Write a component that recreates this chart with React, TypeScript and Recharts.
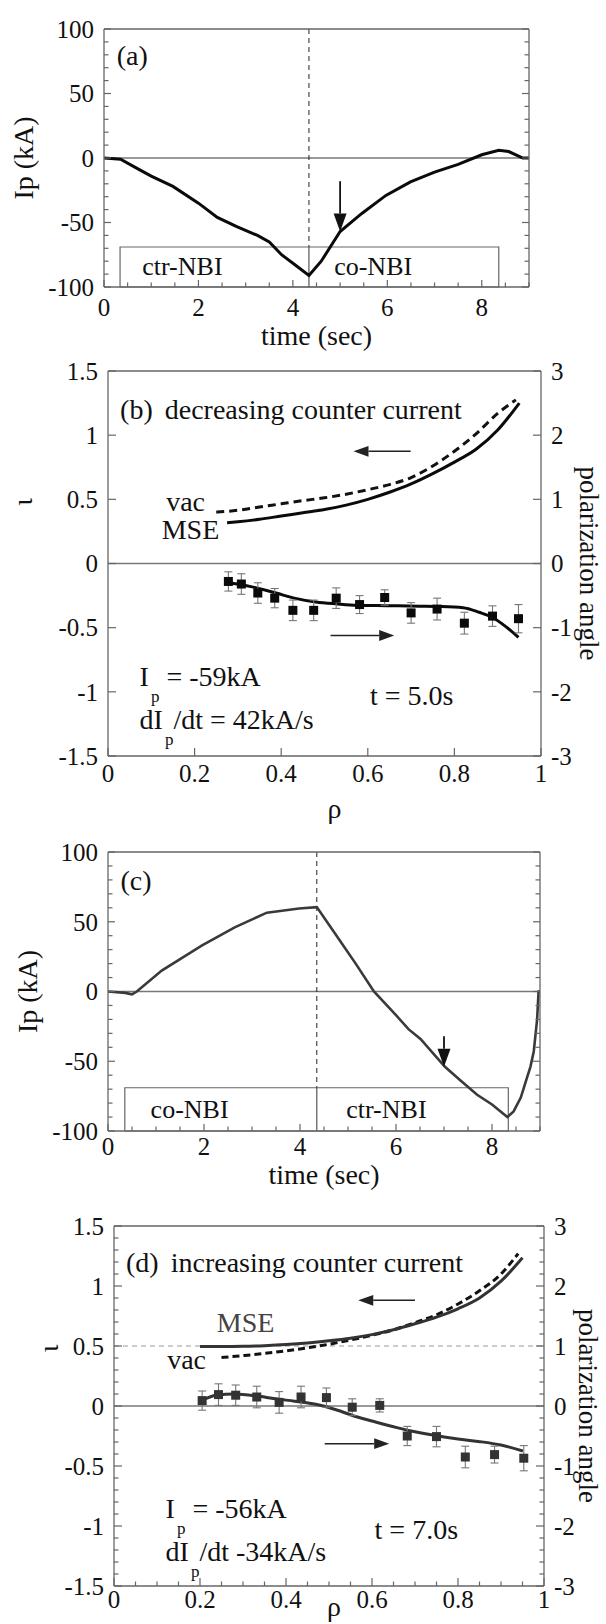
import React from "react";
import {
  ComposedChart,
  Line,
  Scatter,
  ErrorBar,
  XAxis,
  YAxis,
  ReferenceLine,
  ReferenceArea,
  ReferenceDot,
} from "recharts";

const FONT = '"Liberation Serif", "Times New Roman", Times, serif';
const PAGE_W = 606;
const PAGE_H = 1624;
const INK = "#111";
const FRAME = "#666";
const TICK_FS = 25;
const TEXT_FS = 28;

// ---- (a) plasma current, ctr-NBI then co-NBI
const timeA = [0, 0.35, 0.7, 1.0, 1.46, 2.0, 2.4, 2.8, 3.25, 3.5, 3.76, 4.05, 4.34, 4.6, 5.0, 5.46, 5.97, 6.49, 7.0, 7.5, 8.0, 8.36, 8.57, 8.87, 9.0];
const ipA = [0, -1, -8, -14, -22, -35, -46, -53, -60, -65, -75, -83, -91, -80, -57, -43, -29, -18.5, -11, -5, 2.5, 6, 5, 0, 0];

// ---- (c) plasma current, co-NBI then ctr-NBI
const timeC = [0, 0.36, 0.5, 0.6, 1.12, 1.96, 2.64, 3.31, 3.98, 4.35, 4.74, 5.16, 5.54, 6.0, 6.26, 6.51, 7.02, 7.35, 7.69, 8.0, 8.32, 8.45, 8.6, 8.7, 8.8, 8.87, 8.94, 8.97, 9.0];
const ipC = [0, -1, -2, 0, 15, 33, 46, 56.5, 59.5, 60.5, 41, 20, 0, -17, -27, -34, -54, -64, -74, -81, -90, -86, -76, -65, -54, -43, -20, 0, 0];

// NBI start, switch, end (sec)
const nbiA = [0.34, 4.34, 8.36];
const nbiC = [0.35, 4.35, 8.34];
const nbiBoxTop = -69;

// ---- (b) t = 5.0 s
const rhoVacB = [0.25, 0.3, 0.35, 0.4, 0.45, 0.5, 0.55, 0.6, 0.65, 0.7, 0.75, 0.8, 0.85, 0.9, 0.942];
const iotaVacB = [0.4, 0.415, 0.44, 0.465, 0.49, 0.512, 0.54, 0.575, 0.615, 0.67, 0.76, 0.875, 1.01, 1.17, 1.275];
const rhoMseB = [0.275, 0.3, 0.35, 0.4, 0.45, 0.5, 0.55, 0.6, 0.65, 0.7, 0.75, 0.8, 0.85, 0.9, 0.95];
const iotaMseB = [0.317, 0.325, 0.345, 0.37, 0.395, 0.42, 0.455, 0.5, 0.555, 0.62, 0.7, 0.79, 0.89, 1.04, 1.25];
const rhoPtsB = [0.278, 0.308, 0.346, 0.385, 0.427, 0.475, 0.527, 0.581, 0.639, 0.7, 0.76, 0.823, 0.888, 0.948];
const angPtsB = [-0.28, -0.32, -0.46, -0.54, -0.73, -0.73, -0.54, -0.64, -0.53, -0.77, -0.71, -0.93, -0.82, -0.86];
const errPtsB = [0.15, 0.16, 0.16, 0.15, 0.16, 0.16, 0.16, 0.14, 0.12, 0.16, 0.17, 0.17, 0.16, 0.22];
const rhoFitB = [0.278, 0.33, 0.388, 0.43, 0.48, 0.53, 0.575, 0.62, 0.67, 0.72, 0.763, 0.82, 0.857, 0.885, 0.918, 0.948];
const angFitB = [-0.3, -0.36, -0.46, -0.54, -0.6, -0.63, -0.65, -0.655, -0.66, -0.665, -0.67, -0.69, -0.76, -0.83, -0.98, -1.15];

// ---- (d) t = 7.0 s
const rhoVacD = [0.25, 0.3, 0.35, 0.4, 0.45, 0.5, 0.55, 0.6, 0.65, 0.7, 0.75, 0.8, 0.85, 0.9, 0.94];
const iotaVacD = [0.404, 0.42, 0.438, 0.46, 0.485, 0.515, 0.55, 0.59, 0.635, 0.695, 0.76, 0.85, 0.96, 1.1, 1.27];
const rhoMseD = [0.2, 0.25, 0.3, 0.35, 0.4, 0.45, 0.5, 0.55, 0.6, 0.65, 0.7, 0.75, 0.8, 0.85, 0.9, 0.95];
const iotaMseD = [0.495, 0.495, 0.497, 0.503, 0.512, 0.525, 0.543, 0.565, 0.595, 0.635, 0.685, 0.74, 0.81, 0.9, 1.04, 1.235];
const rhoPtsD = [0.205, 0.243, 0.283, 0.332, 0.384, 0.435, 0.494, 0.554, 0.618, 0.682, 0.75, 0.817, 0.885, 0.953];
const angPtsD = [0.09, 0.19, 0.18, 0.15, 0.06, 0.15, 0.14, -0.02, 0.01, -0.5, -0.51, -0.85, -0.81, -0.87];
const errPtsD = [0.16, 0.18, 0.17, 0.18, 0.18, 0.18, 0.16, 0.14, 0.11, 0.16, 0.17, 0.18, 0.14, 0.21];
const rhoFitD = [0.202, 0.238, 0.28, 0.33, 0.375, 0.42, 0.469, 0.52, 0.564, 0.61, 0.658, 0.7, 0.753, 0.8, 0.847, 0.9, 0.951];
const angFitD = [0.09, 0.18, 0.2, 0.17, 0.12, 0.08, 0.03, -0.07, -0.18, -0.27, -0.36, -0.43, -0.5, -0.55, -0.59, -0.65, -0.75];

// tick labels
const timeTicks = [0, 2, 4, 6, 8];
const ipTicks = [-100, -50, 0, 50, 100];
const rhoTicks = [0, 0.2, 0.4, 0.6, 0.8, 1];
const iotaTicks = [-1.5, -1, -0.5, 0, 0.5, 1, 1.5];
const angleTicks = [-3, -2, -1, 0, 1, 2, 3];

type Box = { left: number; right: number; top: number; bottom: number };
type Side = "left" | "right" | "top" | "bottom";
type AxisSpec = { domain: [number, number]; ticks: number[]; majors: number[]; labelled: boolean };

const boxA: Box = { left: 104, right: 529, top: 29, bottom: 287 };
const boxB: Box = { left: 108, right: 541, top: 371, bottom: 756 };
const boxC: Box = { left: 108, right: 540, top: 852, bottom: 1131 };
const boxD: Box = { left: 114, right: 544, top: 1226, bottom: 1586 };

// every axis is 1px thick, so the plot box sits 1px inside the margins
const marginOf = (b: Box) => ({
  top: b.top - 1,
  left: b.left - 1,
  right: PAGE_W - b.right - 1,
  bottom: PAGE_H - b.bottom - 1,
});

const xy = (xs: number[], ys: number[], es?: number[]) =>
  xs.map((x, i) => ({ x, y: ys[i], e: es ? es[i] : 0 }));

const steps = (a: number, b: number, s: number) => {
  const out: number[] = [];
  for (let i = 0; a + i * s <= b + 1e-9; i++) out.push(Math.round((a + i * s) * 1000) / 1000);
  return out;
};

const serif = (size: number, fill = INK) => ({ fontFamily: FONT, fontSize: size, fill });

function tickFn(side: Side, spec: AxisSpec, gap: number, majorLen = 8, minorLen = 4.5) {
  return (p: any) => {
    const v = Number(p.payload && p.payload.value);
    const major = spec.majors.some((m) => Math.abs(m - v) < 1e-6);
    const len = major ? majorLen : minorLen;
    const x = Number(p.x);
    const y = Number(p.y);
    const x2 = side === "left" ? x + len : side === "right" ? x - len : x;
    const y2 = side === "top" ? y + len : side === "bottom" ? y - len : y;
    let text: React.ReactNode = null;
    if (spec.labelled && major) {
      const tx = side === "left" ? x - gap : side === "right" ? x + gap : x;
      const ty = side === "bottom" ? y + gap : y;
      const anchor = side === "left" ? "end" : side === "right" ? "start" : "middle";
      text = (
        <text x={tx} y={ty} dy="0.35em" textAnchor={anchor} fontFamily={FONT} style={serif(TICK_FS)}>
          {String(v)}
        </text>
      );
    }
    return (
      <g>
        <line x1={x} y1={y} x2={x2} y2={y2} stroke={FRAME} strokeWidth={1.2} />
        {text}
      </g>
    );
  };
}

function title(text: string, dx: number, dy: number, angle: number, along: "x" | "y", frac = 0.5, size = TEXT_FS) {
  return (lp: any) => {
    const vb = lp.viewBox || lp;
    const cx = along === "x" ? vb.x + vb.width * frac + dx : vb.x + dx;
    const cy = along === "x" ? vb.y + dy : vb.y + vb.height * frac + dy;
    return (
      <text
        x={cx}
        y={cy}
        dy="0.35em"
        textAnchor="middle"
        transform={angle ? `rotate(${angle} ${cx} ${cy})` : undefined}
        fontFamily={FONT}
        style={serif(size)}
      >
        {text}
      </text>
    );
  };
}

function panelAxes(cfg: {
  x: AxisSpec;
  y: AxisSpec;
  r: AxisSpec;
  xGap: number;
  xTitle: (lp: any) => React.ReactNode;
  yTitle: (lp: any) => React.ReactNode;
  rTitle?: (lp: any) => React.ReactNode;
  majorLen?: number;
}) {
  const ml = cfg.majorLen ?? 8;
  const common = {
    tickSize: 0,
    tickMargin: 0,
    interval: 0 as const,
    allowDataOverflow: true,
    tickLine: false,
    axisLine: { stroke: FRAME, strokeWidth: 1.3 },
  };
  const top = { ...cfg.x, labelled: false };
  return [
    <XAxis key="xb" xAxisId="x" type="number" dataKey="x" orientation="bottom" height={1}
      domain={cfg.x.domain} ticks={cfg.x.ticks} tick={tickFn("bottom", cfg.x, cfg.xGap, ml)}
      label={cfg.xTitle} {...common} />,
    <XAxis key="xt" xAxisId="top" type="number" orientation="top" height={1}
      domain={cfg.x.domain} ticks={cfg.x.ticks} tick={tickFn("top", top, 0, ml)} {...common} />,
    <YAxis key="yl" yAxisId="l" type="number" orientation="left" width={1}
      domain={cfg.y.domain} ticks={cfg.y.ticks} tick={tickFn("left", cfg.y, 10, ml)}
      label={cfg.yTitle} {...common} />,
    <YAxis key="yr" yAxisId="r" type="number" orientation="right" width={1}
      domain={cfg.r.domain} ticks={cfg.r.ticks} tick={tickFn("right", cfg.r, 10, ml)}
      label={cfg.rTitle} {...common} />,
  ];
}

function note(key: string, x: number, y: number, yAxisId: string, render: (cx: number, cy: number) => React.ReactNode) {
  return (
    <ReferenceDot key={key} x={x} y={y} xAxisId="x" yAxisId={yAxisId} r={1} ifOverflow="visible"
      shape={(p: any) => <g>{render(Number(p.cx), Number(p.cy))}</g>} />
  );
}

const plain = (text: string, anchor: "start" | "middle" | "end" = "start", fill = INK, size = TEXT_FS) =>
  (cx: number, cy: number) => (
    <text x={cx} y={cy} dy="0.35em" textAnchor={anchor} style={serif(size, fill)}>
      {text}
    </text>
  );

const withSub = (before: string, sub: string, after: string) => (cx: number, cy: number) => (
  <text x={cx} y={cy} dy="0.35em" style={serif(TEXT_FS)}>
    {before}
    <tspan dx={2} dy={16} style={{ fontSize: 17 }}>{sub}</tspan>
    <tspan dy={-16}>{after}</tspan>
  </text>
);

const tagged = (tag: string, text: string) => (cx: number, cy: number) => (
  <text x={cx} y={cy} dy="0.35em" style={serif(TEXT_FS)}>
    {tag}
    <tspan dx={12}>{text}</tspan>
  </text>
);

function arrow(key: string, x1: number, y1: number, x2: number, y2: number, yAxisId: string, color = INK, w = 1.6, head = 15) {
  return (
    <ReferenceLine key={key} xAxisId="x" yAxisId={yAxisId} ifOverflow="visible"
      segment={[{ x: x1, y: y1 }, { x: x2, y: y2 }]}
      shape={(p: any) => {
        const ax = Number(p.x1), ay = Number(p.y1), bx = Number(p.x2), by = Number(p.y2);
        const L = Math.hypot(bx - ax, by - ay) || 1;
        const ux = (bx - ax) / L, uy = (by - ay) / L;
        const hx = bx - ux * head, hy = by - uy * head;
        const hw = head * 0.36;
        return (
          <g>
            <line x1={ax} y1={ay} x2={hx} y2={hy} stroke={color} strokeWidth={w} />
            <polygon
              points={`${bx},${by} ${hx - uy * hw},${hy + ux * hw} ${hx + uy * hw},${hy - ux * hw}`}
              fill={color}
            />
          </g>
        );
      }}
    />
  );
}

function TracePanel(p: {
  box: Box;
  time: number[];
  ip: number[];
  nbi: number[];
  names: [string, string];
  nameT: [number, number];
  arrowT: number;
  arrowFrom: number;
  arrowTo: number;
  tag: string;
  tagT: number;
  color: string;
  width: number;
  xGap: number;
  titleDy: number;
}) {
  const x: AxisSpec = { domain: [0, 9], ticks: steps(0, 9, 0.5), majors: timeTicks, labelled: true };
  const y: AxisSpec = { domain: [-100, 100], ticks: steps(-100, 100, 10), majors: ipTicks, labelled: true };
  const r: AxisSpec = { ...y, labelled: false };
  return (
    <div style={{ position: "absolute", left: 0, top: 0 }}>
      <ComposedChart width={PAGE_W} height={PAGE_H} margin={marginOf(p.box)}>
        {panelAxes({
          x, y, r,
          xGap: p.xGap,
          majorLen: 7,
          xTitle: title("time (sec)", 0, p.titleDy, 0, "x"),
          yTitle: title("Ip (kA)", -80, 0, -90, "y"),
        })}
        <ReferenceLine xAxisId="x" yAxisId="l" y={0} stroke="#777" strokeWidth={1.4} />
        <ReferenceLine xAxisId="x" yAxisId="l" segment={[{ x: p.nbi[1], y: 100 }, { x: p.nbi[1], y: nbiBoxTop }]}
          stroke="#222" strokeWidth={1} strokeDasharray="5 4" />
        <ReferenceArea xAxisId="x" yAxisId="l" x1={p.nbi[0]} x2={p.nbi[2]} y1={-100} y2={nbiBoxTop}
          fill="none" fillOpacity={0} stroke="#666" strokeWidth={1.2} />
        <ReferenceLine xAxisId="x" yAxisId="l" segment={[{ x: p.nbi[1], y: nbiBoxTop }, { x: p.nbi[1], y: -100 }]}
          stroke="#555" strokeWidth={1.2} />
        <Line data={xy(p.time, p.ip)} dataKey="y" xAxisId="x" yAxisId="l" type="linear"
          stroke={p.color} strokeWidth={p.width} dot={false} isAnimationActive={false} />
        {note("tag", p.tagT, 80, "l", plain(p.tag))}
        {note("n1", p.nameT[0], -84, "l", plain(p.names[0], "middle", INK, 26))}
        {note("n2", p.nameT[1], -84, "l", plain(p.names[1], "middle", INK, 26))}
        {arrow("arr", p.arrowT, p.arrowFrom, p.arrowT, p.arrowTo, "l", INK, 1.8, 18)}
      </ComposedChart>
    </div>
  );
}

function ProfilePanel(p: {
  box: Box;
  minor: boolean;
  vac: { x: number; y: number }[];
  mse: { x: number; y: number }[];
  pts: { x: number; y: number; e: number }[];
  fit: { x: number; y: number }[];
  ink: string;
  vacDash: string;
  halfLine: boolean;
  tag: string;
  heading: string;
  headY: number;
  vacAt: [number, number];
  mseAt: [number, number];
  mseAnchor: "end" | "middle";
  mseFill: string;
  leftArrow: [number, number, number];
  rightArrow: [number, number, number];
  ipAt: [number, number];
  ipText: string;
  dipAt: [number, number];
  dipText: string;
  tAt: [number, number];
  tText: string;
  iotaDx: number;
  iotaFrac: number;
  rhoDx: number;
  rhoDy: number;
  xGap: number;
  polDx: number;
}) {
  const x: AxisSpec = { domain: [0, 1], ticks: p.minor ? steps(0, 1, 0.05) : rhoTicks, majors: rhoTicks, labelled: true };
  const y: AxisSpec = { domain: [-1.5, 1.5], ticks: p.minor ? steps(-1.5, 1.5, 0.1) : iotaTicks, majors: iotaTicks, labelled: true };
  const r: AxisSpec = { domain: [-3, 3], ticks: p.minor ? steps(-3, 3, 0.2) : angleTicks, majors: angleTicks, labelled: true };
  const sq = 9;
  return (
    <div style={{ position: "absolute", left: 0, top: 0 }}>
      <ComposedChart width={PAGE_W} height={PAGE_H} margin={marginOf(p.box)}>
        {panelAxes({
          x, y, r,
          xGap: p.xGap,
          xTitle: title("ρ", p.rhoDx, p.rhoDy, 0, "x"),
          yTitle: title("ι", p.iotaDx, 0, -90, "y", p.iotaFrac),
          rTitle: title("polarization angle", p.polDx, 0, 90, "y", 0.5, 27),
        })}
        <ReferenceLine xAxisId="x" yAxisId="l" y={0} stroke="#777" strokeWidth={1.3} />
        {p.halfLine ? (
          <ReferenceLine xAxisId="x" yAxisId="l" y={0.5} stroke="#9a9a9a" strokeWidth={1.2} strokeDasharray="5 4" />
        ) : null}
        <Line data={p.vac} dataKey="y" xAxisId="x" yAxisId="l" type="monotone" stroke="#111"
          strokeWidth={3} strokeDasharray={p.vacDash} dot={false} isAnimationActive={false} />
        <Line data={p.mse} dataKey="y" xAxisId="x" yAxisId="l" type="monotone" stroke={p.ink}
          strokeWidth={3} dot={false} isAnimationActive={false} />
        <Line data={p.fit} dataKey="y" xAxisId="x" yAxisId="r" type="monotone" stroke={p.ink}
          strokeWidth={3} dot={false} isAnimationActive={false} />
        <Scatter data={p.pts} dataKey="y" xAxisId="x" yAxisId="r" isAnimationActive={false}
          shape={(s: any) => (
            <rect x={Number(s.cx) - sq / 2} y={Number(s.cy) - sq / 2} width={sq} height={sq} fill={p.ink} />
          )}>
          <ErrorBar dataKey="e" direction="y" width={4} stroke="#777" strokeWidth={1.1} />
        </Scatter>
        {note("head", 0.028, p.headY, "l", tagged(p.tag, p.heading))}
        {note("vac", p.vacAt[0], p.vacAt[1], "l", plain("vac", "end"))}
        {note("mse", p.mseAt[0], p.mseAt[1], "l", plain("MSE", p.mseAnchor, p.mseFill))}
        {arrow("la", p.leftArrow[0], p.leftArrow[2], p.leftArrow[1], p.leftArrow[2], "l", "#222", 1.5, 15)}
        {arrow("ra", p.rightArrow[0], p.rightArrow[2], p.rightArrow[1], p.rightArrow[2], "l", "#222", 1.5, 15)}
        {note("ip", p.ipAt[0], p.ipAt[1], "l", withSub("I", "p", " = " + p.ipText))}
        {note("dip", p.dipAt[0], p.dipAt[1], "l", withSub("dI", "p", p.dipText))}
        {note("t", p.tAt[0], p.tAt[1], "l", plain(p.tText))}
      </ComposedChart>
    </div>
  );
}

export default function App() {
  return (
    <div
      style={{
        position: "absolute",
        left: 0,
        top: 0,
        width: PAGE_W,
        height: PAGE_H,
        background: "#fff",
        overflow: "hidden",
        fontFamily: FONT,
      }}
    >
      <TracePanel
        box={boxA}
        time={timeA}
        ip={ipA}
        nbi={nbiA}
        names={["ctr-NBI", "co-NBI"]}
        nameT={[1.66, 5.7]}
        arrowT={5.0}
        arrowFrom={-18}
        arrowTo={-57}
        tag="(a)"
        tagT={0.27}
        color="#0a0a0a"
        width={3}
        xGap={20}
        titleDy={48}
      />
      <ProfilePanel
        box={boxB}
        minor={false}
        vac={xy(rhoVacB, iotaVacB)}
        mse={xy(rhoMseB, iotaMseB)}
        pts={xy(rhoPtsB, angPtsB, errPtsB)}
        fit={xy(rhoFitB, angFitB)}
        ink="#0a0a0a"
        vacDash="8 5"
        halfLine={false}
        tag="(b)"
        heading="decreasing counter current"
        headY={1.2}
        vacAt={[0.224, 0.488]}
        mseAt={[0.257, 0.269]}
        mseAnchor="end"
        mseFill={INK}
        leftArrow={[0.699, 0.567, 0.874]}
        rightArrow={[0.514, 0.661, -0.561]}
        ipAt={[0.073, -0.878]}
        ipText="-59kA"
        dipAt={[0.073, -1.212]}
        dipText="/dt = 42kA/s"
        tAt={[0.605, -1.028]}
        tText="t = 5.0s"
        iotaDx={-85}
        iotaFrac={0.34}
        rhoDx={10}
        rhoDy={52}
        xGap={17}
        polDx={48}
      />
      <TracePanel
        box={boxC}
        time={timeC}
        ip={ipC}
        nbi={nbiC}
        names={["co-NBI", "ctr-NBI"]}
        nameT={[1.7, 5.8]}
        arrowT={7.0}
        arrowFrom={-32}
        arrowTo={-54}
        tag="(c)"
        tagT={0.26}
        color="#3a3a3a"
        width={2.6}
        xGap={15}
        titleDy={43}
      />
      <ProfilePanel
        box={boxD}
        minor={true}
        vac={xy(rhoVacD, iotaVacD)}
        mse={xy(rhoMseD, iotaMseD)}
        pts={xy(rhoPtsD, angPtsD, errPtsD)}
        fit={xy(rhoFitD, angFitD)}
        ink="#333"
        vacDash="7 4"
        halfLine={true}
        tag="(d)"
        heading="increasing counter current"
        headY={1.2}
        vacAt={[0.214, 0.386]}
        mseAt={[0.306, 0.697]}
        mseAnchor="middle"
        mseFill="#444"
        leftArrow={[0.7, 0.568, 0.881]}
        rightArrow={[0.49, 0.64, -0.314]}
        ipAt={[0.12, -0.85]}
        ipText="-56kA"
        dipAt={[0.12, -1.208]}
        dipText="/dt -34kA/s"
        tAt={[0.606, -1.023]}
        tText="t = 7.0s"
        iotaDx={-65}
        iotaFrac={0.34}
        rhoDx={5}
        rhoDy={20}
        xGap={13}
        polDx={44}
      />
    </div>
  );
}
